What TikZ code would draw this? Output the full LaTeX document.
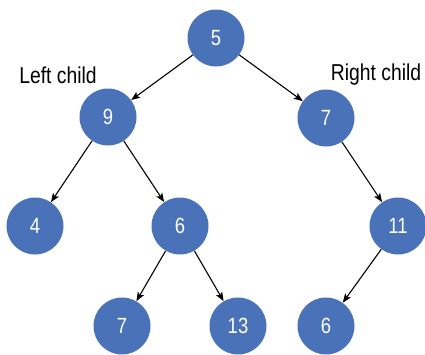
\documentclass[tikz,border=0pt]{standalone}
\usepackage{fontspec}
\setmainfont{Liberation Sans}[FakeStretch=0.84]
\usetikzlibrary{arrows.meta}
\definecolor{nodeblue}{HTML}{4A72B8}
\begin{document}
\begin{tikzpicture}[x=1pt,y=-1pt,
  tnode/.style={circle,fill=nodeblue,text=white,minimum size=57pt,inner sep=0pt,font=\fontsize{22}{24}\selectfont},
  lbl/.style={font=\fontsize{23}{25}\selectfont,text=black,inner sep=0pt},
  edge/.style={-{Stealth[length=9pt,width=7pt,inset=2pt]},line width=1.1pt,black}]
\useasboundingbox (0,0) rectangle (425,354);
\node[tnode] (n5) at (216,38) {5};
\node[tnode] (n9) at (108,117) {9};
\node[tnode] (n7a) at (326,118) {7};
\node[tnode] (n4) at (35,226) {4};
\node[tnode] (n6a) at (180,226) {6};
\node[tnode] (n11) at (398,226) {11};
\node[tnode] (n7b) at (122,326) {7};
\node[tnode] (n13) at (238,326) {13};
\node[tnode] (n6b) at (326,326) {6};
\node[lbl] (lc) at (58,75) {Left child};
\node[lbl] (rc) at (376,75) {Right child};
\draw[edge] (n5) -- (n9);
\draw[edge] (n5) -- (n7a);
\draw[edge] (n9) -- (n4);
\draw[edge] (n9) -- (n6a);
\draw[edge] (n7a) -- (n11);
\draw[edge] (n6a) -- (n7b);
\draw[edge] (n6a) -- (n13);
\draw[edge] (n11) -- (n6b);
\end{tikzpicture}
\end{document}
